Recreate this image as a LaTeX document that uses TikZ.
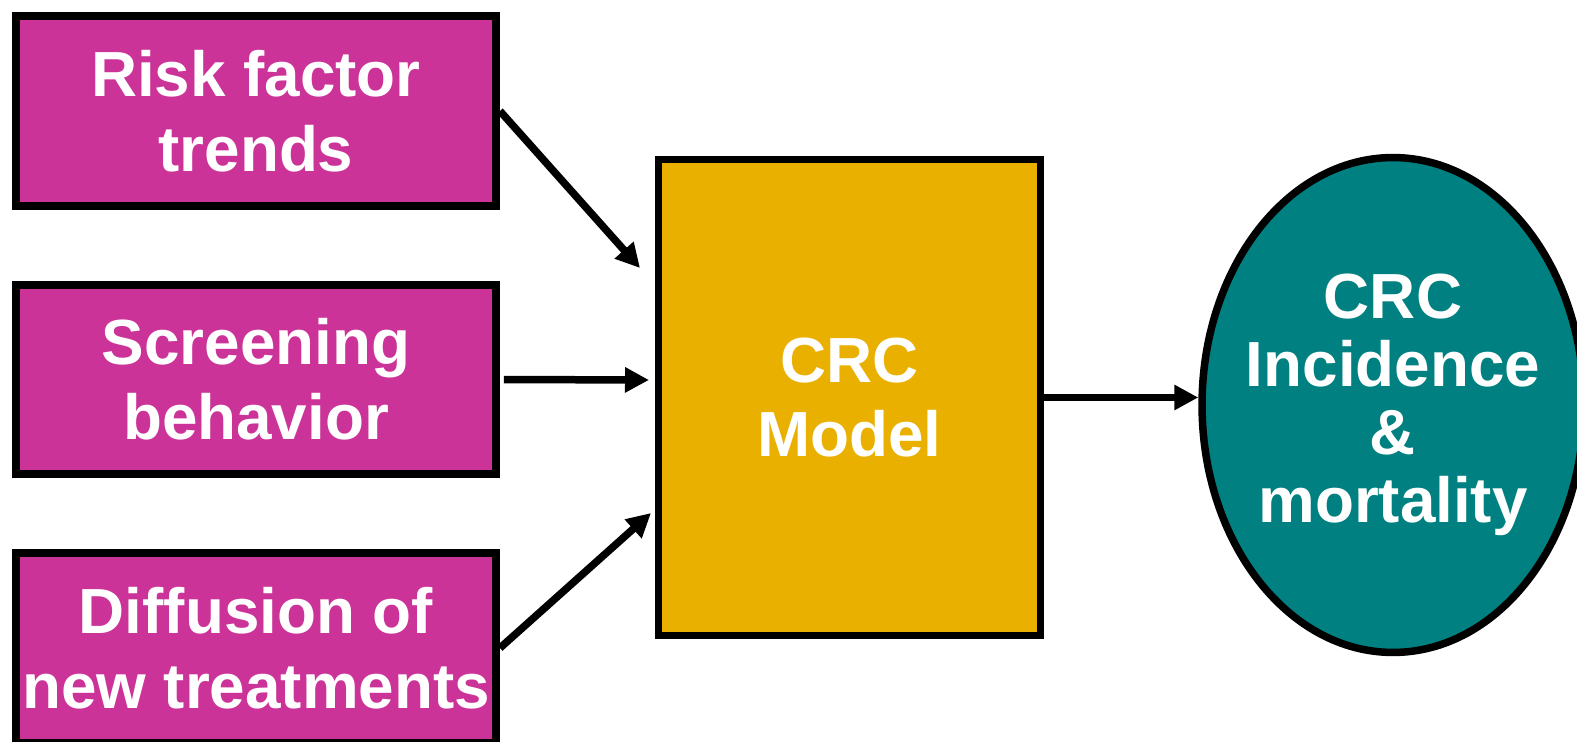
\documentclass[tikz,border=0pt]{standalone}
\usepackage{fontspec}
\setmainfont{Liberation Sans}
\usetikzlibrary{arrows.meta,shapes.geometric}

\definecolor{inpink}{RGB}{204,51,153}
\definecolor{modelgold}{RGB}{234,176,0}
\definecolor{outteal}{RGB}{0,128,128}

\begin{document}
\begin{tikzpicture}[x=0.02cm, y=-0.02cm,
		boxtext/.style={text=white, align=center, inner sep=0pt,
			font=\bfseries\fontsize{36.3}{42.5}\selectfont},
		inbox/.style={boxtext, rectangle, draw=black, line width=0.16cm, fill=inpink,
			minimum width=9.6cm, minimum height=3.8cm},
		feed/.style={line width=0.15cm, -{Triangle[length=0.48cm, width=0.48cm]}}]
		\clip (0,0) rectangle (1577,742);
		% three inputs on the left
		\node[inbox] (risk) at (256, 111) {Risk factor\\trends};
		\node[inbox] (screen) at (256, 379.5) {Screening\\behavior};
		\node[inbox] (diff) at (256, 648) {Diffusion of\\new treatments};
		% the model
		\node[boxtext, rectangle, draw=black, line width=0.14cm, fill=modelgold,
			minimum width=7.64cm, minimum height=9.52cm] (model) at (849.5, 397.5) {CRC\\Model};
		% outcome
		\node[ellipse, draw=black, line width=0.15cm, fill=outteal,
			minimum width=7.64cm, minimum height=9.9cm] (outcome) at (1393, 405) {};
		\node[boxtext, font=\bfseries\fontsize{36.3}{38.6}\selectfont] (outtext) at (outcome.center) {CRC\\Incidence\\\&\\mortality};
		\coordinate (tipA) at (640, 268);
		\coordinate (tipB) at (649, 380);
		\coordinate (tipC) at (651, 513);
		\draw[feed] (risk.east) -- (tipA);
		\draw[feed, shorten <=0.08cm] (screen.east) -- (tipB);
		\draw[feed] (diff.east) -- (tipC);
		\draw[feed] (model.east) -- (model.east -| outcome.west);
	\end{tikzpicture}
\end{document}
